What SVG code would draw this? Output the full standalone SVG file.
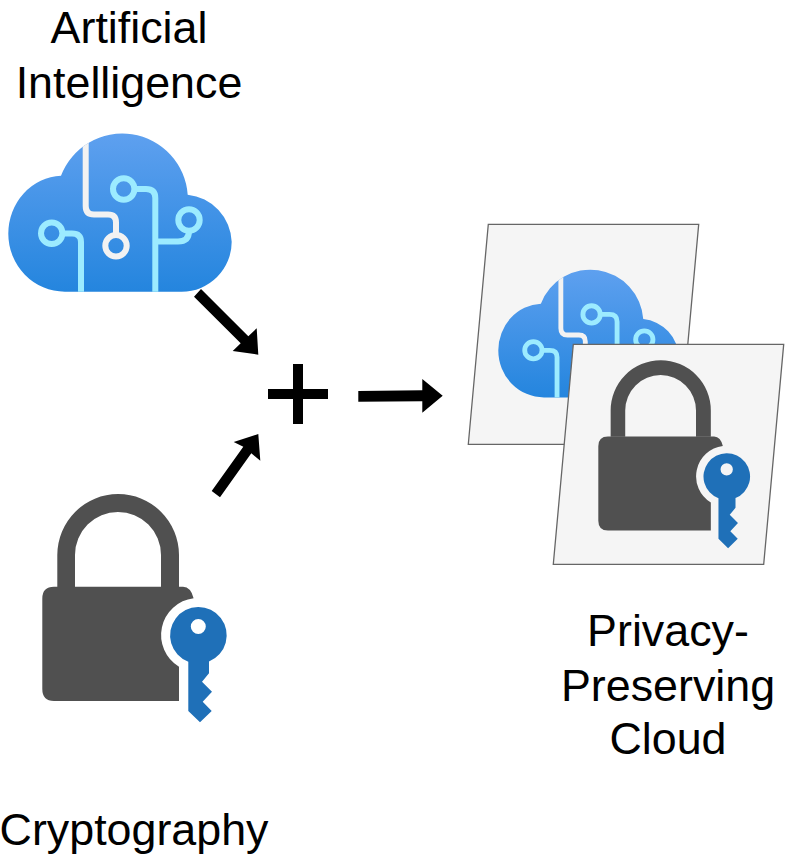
<svg xmlns="http://www.w3.org/2000/svg" xmlns:xlink="http://www.w3.org/1999/xlink" width="785" height="856" viewBox="0 0 785 856">
<style>
text{font-family:"Liberation Sans",Arial,sans-serif;font-size:44.8px;fill:#000;text-anchor:middle}
.panel{fill:#f5f5f5;stroke:#666;stroke-width:1.3}
.cy{fill:none;stroke:#9cebff;stroke-width:6}
.gr{fill:none;stroke:#f2f2f2;stroke-width:6}
.arrow{fill:#000}
</style>
<defs>
<linearGradient id="cg" gradientUnits="userSpaceOnUse" x1="0" y1="134" x2="0" y2="292">
<stop offset="0" stop-color="#5ea0ef"/><stop offset="1" stop-color="#2485de"/>
</linearGradient>
<clipPath id="cc"><path d="M65,291.7 A56.5,58 0 0 1 8.3,233.5 A55,58 0 0 1 61,175.7 A65.6,65.6 0 0 1 187.7,194.7 A49,49 0 0 1 231.7,241.7 A50,50 0 0 1 181.7,291.7 Z"/></clipPath>
<g id="cloudicon">
<path d="M65,291.7 A56.5,58 0 0 1 8.3,233.5 A55,58 0 0 1 61,175.7 A65.6,65.6 0 0 1 187.7,194.7 A49,49 0 0 1 231.7,241.7 A50,50 0 0 1 181.7,291.7 Z" fill="url(#cg)"/>
<g clip-path="url(#cc)">
<path class="gr" d="M85.7,130 V206 Q85.7,214.5 94,214.5 H108 Q116,214.5 116,222.5 V235"/>
<circle class="gr" cx="116" cy="245.7" r="10.7"/>
<path class="cy" d="M81,295 V242 Q81,233.5 72,233.5 H62"/>
<circle class="cy" cx="51.7" cy="233.3" r="10.7"/>
<path class="cy" d="M155.3,295 V198 Q155.3,189 146,189 H134"/>
<circle class="cy" cx="123.7" cy="189" r="10.7"/>
<path class="cy" d="M155.3,241.5 H178 Q189,241.5 189,231 V230"/>
<circle class="cy" cx="189" cy="220" r="10.7"/>
</g>
</g>
<g id="lockicon">
<path fill="#505050" d="M57.3,587 V555 A60.85,61 0 0 1 179,555 V587 H161 V555 A43,43 0 0 0 75,555 V587 Z"/>
<path fill="#505050" d="M54,586.7 H183 Q191,587 193.6,598.3 A37,37 0 0 0 179,666.7 V701 H54 Q42.3,701 42.3,689 V598.5 Q42.3,586.7 54,586.7 Z"/>
<path fill="#1f70b8" fill-rule="evenodd" d="M209,661.5 A28.3,28.3 0 1 0 188.3,661.7 V711 L200,722.3 L211.7,711 L202.7,701.7 L212,691.7 L202,681.7 L209,673.3 Z M205.8,626.5 A7.5,7.5 0 1 0 190.8,626.5 A7.5,7.5 0 1 0 205.8,626.5 Z"/>
</g>
</defs>

<g id="connectors">
<polygon class="arrow" points="194,296.7 201,289 248.3,336.3 256.7,328.3 258.3,354.7 232.7,351 240.7,343.3"/>
<polygon class="arrow" points="211.7,491 220,497.3 251.3,453.3 260.3,460.7 258.3,434 233.7,442 243.3,446.7"/>
<polygon class="arrow" points="358.3,391 422.3,390.3 422.3,379 442.7,395.7 422.3,412.7 422.3,401.3 358.3,401.7"/>
</g>

<g id="ai">
<use href="#cloudicon" xlink:href="#cloudicon"/>
<text x="129" y="43">Artificial</text>
<text x="129" y="98">Intelligence</text>
</g>

<g id="crypto">
<use href="#lockicon" xlink:href="#lockicon"/>
<text x="134" y="845">Cryptography</text>
</g>

<g id="plus">
<rect x="293" y="364" width="10" height="60"/>
<rect x="268" y="389" width="60" height="10"/>
</g>

<g id="cloud-panel">
<polygon class="panel" points="488.3,224.3 698.7,224.3 678.7,444.3 468.3,444.3"/>
<use href="#cloudicon" xlink:href="#cloudicon" transform="translate(491.6,161.7) scale(0.808)"/>
</g>

<g id="lock-panel">
<polygon class="panel" points="573.3,344.3 783.7,344.3 763.7,564.3 553.3,564.3"/>
<use href="#lockicon" xlink:href="#lockicon" transform="translate(563.5,-46.3) scale(0.823)"/>
</g>

<g id="result">
<text x="668" y="646">Privacy-</text>
<text x="668" y="701">Preserving</text>
<text x="668" y="754">Cloud</text>
</g>
</svg>
